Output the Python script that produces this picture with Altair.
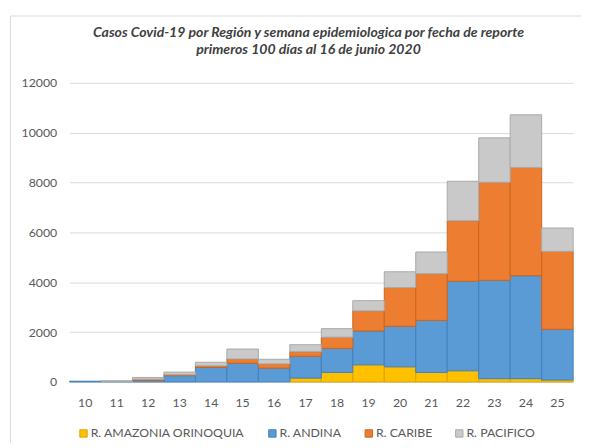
import altair as alt
import pandas as pd

weeks = [10, 11, 12, 13, 14, 15, 16, 17, 18, 19, 20, 21, 22, 23, 24, 25]
regions = ["R. AMAZONIA ORINOQUIA", "R. ANDINA", "R. CARIBE", "R. PACIFICO"]
amazonia = [0, 0, 0, 0, 0, 0, 0, 155, 383, 686, 607, 383, 449, 132, 132, 79]
andina = [30, 20, 60, 250, 580, 750, 555, 875, 964, 1360, 1624, 2086, 3591, 3947, 4132, 2033]
caribe = [0, 0, 50, 40, 65, 170, 170, 185, 448, 805, 1557, 1874, 2429, 3934, 4343, 3128]
pacifico = [0, 30, 70, 106, 145, 400, 185, 280, 344, 410, 634, 871, 1584, 1782, 2113, 938]
title_lines = ["Casos Covid-19 por Región y semana epidemiologica por fecha de reporte",
               "primeros 100 días al 16 de junio 2020"]

fills = ["#FFC000", "#5B9BD5", "#ED7D31", "#C9C9C9"]
strokes = ["#D9A300", "#3F7FBF", "#C9651F", "#A8A8A8"]

series = [amazonia, andina, caribe, pacifico]
rows = []
for i, (reg, vals) in enumerate(zip(regions, series)):
    for w, v in zip(weeks, vals):
        rows.append({"week": str(w), "region": reg, "value": v, "ord": i})
df = pd.DataFrame(rows)
tdf = pd.DataFrame({"t": [0]})

font = "Lato"
legend_def = alt.Legend(
    orient="none", legendX=8, legendY=350, direction="horizontal",
    title=None, symbolType="square", symbolSize=56, symbolStrokeWidth=1,
    labelFont=font, labelFontSize=12.5, labelColor="#595959",
    columnPadding=21, labelOffset=1, columns=4,
)

bars = alt.Chart(df).transform_filter("datum.value > 0").mark_bar(strokeWidth=1).encode(
    x=alt.X("week:O", sort=[str(w) for w in weeks],
            scale=alt.Scale(paddingInner=0, paddingOuter=0),
            axis=alt.Axis(title=None, labelAngle=0, ticks=False, labelPadding=15, grid=False,
                          labelFont=font, labelFontSize=12.5, labelColor="#595959",
                          domainColor="#D9D9D9")),
    y=alt.Y("value:Q", stack="zero",
            scale=alt.Scale(domain=[0, 12000], nice=False),
            axis=alt.Axis(title=None, values=[0, 2000, 4000, 6000, 8000, 10000, 12000],
                          format="d", ticks=False, domain=False, labelPadding=13, grid=True,
                          gridColor="#D9D9D9", labelFont=font, labelFontSize=12.5,
                          labelColor="#595959")),
    color=alt.Color("region:N", scale=alt.Scale(domain=regions, range=fills), legend=legend_def),
    stroke=alt.Stroke("region:N", scale=alt.Scale(domain=regions, range=strokes), legend=legend_def),
    order=alt.Order("ord:Q", sort="ascending"),
)

border_top = alt.Chart(tdf).mark_rule(color="#D9D9D9", strokeWidth=1).encode(
    x=alt.value(-60), x2=alt.value(520), y=alt.value(-68)
)
border_left = alt.Chart(tdf).mark_rule(color="#D9D9D9", strokeWidth=1).encode(
    x=alt.value(-60), y=alt.value(-68), y2=alt.value(366)
)

def title_text(line, yv):
    return alt.Chart(tdf).mark_text(
        text=line, font=font, fontStyle="italic", fontWeight="bold", fontSize=14.3,
        color="#404040", align="center", baseline="middle",
    ).encode(x=alt.value(243), y=alt.value(yv))

t1 = title_text(title_lines[0], -51)
t2 = title_text(title_lines[1], -33)

chart = alt.layer(border_top, border_left, t1, t2, bars).properties(
    width=512, height=304,
    padding={"left": 1.5, "top": 3.5, "right": 0, "bottom": 0},
).configure_view(stroke=None)

chart.save("out.html", embed_options={"renderer": "svg", "actions": False})
